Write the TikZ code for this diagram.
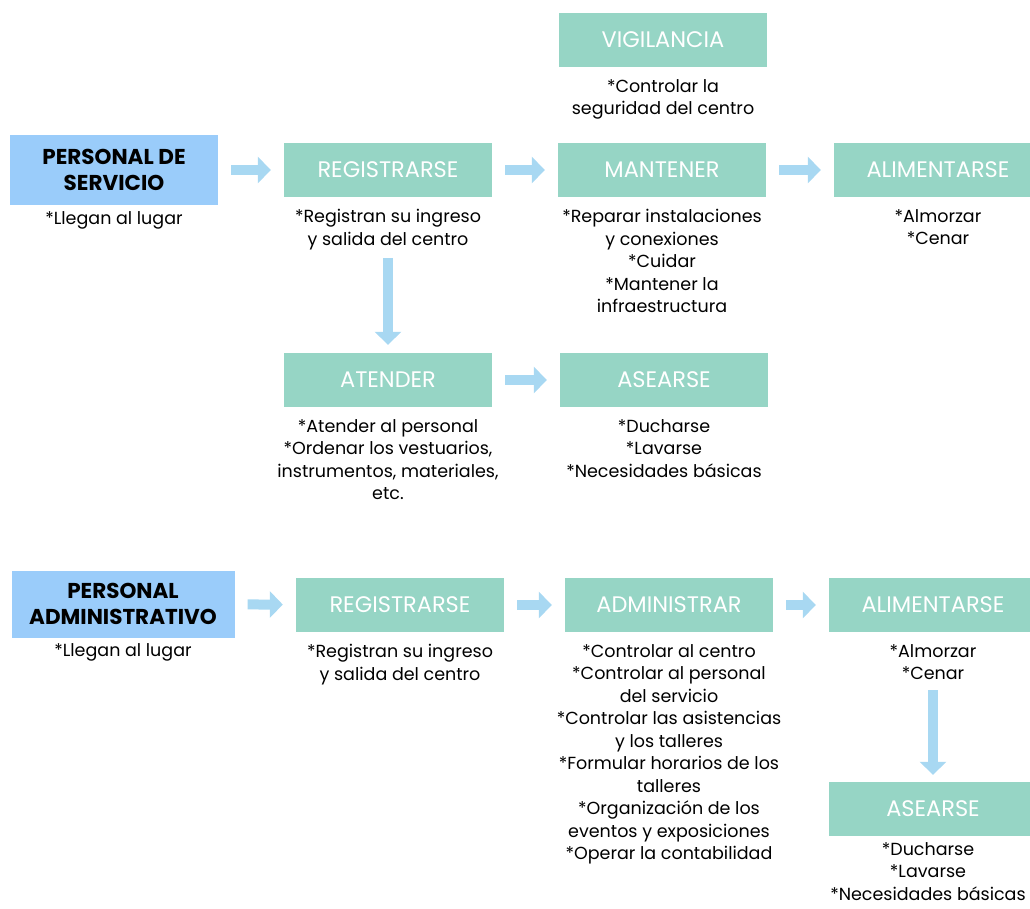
\documentclass[tikz,border=0pt]{standalone}
\usepackage{fontspec}
\setmainfont{Poppins}
\usetikzlibrary{positioning,arrows.meta}
\definecolor{tealbox}{HTML}{96D5C5}
\definecolor{bluebox}{HTML}{9ACCFA}
\definecolor{arrowblue}{HTML}{A8D8F2}
\tikzset{
  stage/.style={fill=tealbox, text=white, minimum width=208pt, minimum height=54pt,
    inner sep=0pt, font=\fontsize{22.5}{26}\selectfont},
  actor/.style={fill=bluebox, text=black, align=center, minimum width=208pt, minimum height=70pt,
    inner sep=0pt, font=\bfseries\fontsize{21.5}{26}\selectfont},
  note/.style={align=center, inner sep=0pt, font=\fontsize{17.5}{22.5}\selectfont},
  flow/.style={arrowblue, line width=10pt, -{Triangle[length=13pt,width=26pt]},
    shorten <=13pt, shorten >=13pt}
}
\begin{document}
\begin{tikzpicture}[x=1pt,y=-1pt]
	\useasboundingbox (0,0) rectangle (1030,908);
	\clip (0,0) rectangle (1030,908);
	% personal de servicio
	\node[actor] (ps) at (114,170) {PERSONAL DE\\SERVICIO};
	\node[note, below=6pt of ps] (psn) {*Llegan al lugar};
	\node[stage] (reg) at (388,170) {REGISTRARSE};
	\node[note, below=12pt of reg] (regn) {*Registran su ingreso\\y salida del centro};
	\node[stage] (vig) at (663,40) {VIGILANCIA};
	\node[note, below=12pt of vig] (vign) {*Controlar la\\seguridad del centro};
	\node[stage] (man) at (662,170) {MANTENER};
	\node[note, below=12pt of man] (mann) {*Reparar instalaciones\\y conexiones\\*Cuidar\\*Mantener la\\infraestructura};
	\node[stage] (ali) at (938,170) {ALIMENTARSE};
	\node[note, below=12pt of ali] (alin) {*Almorzar\\*Cenar};
	\node[stage] (ate) at (388,380) {ATENDER};
	\node[note, below=12pt of ate] (aten) {*Atender al personal\\*Ordenar los vestuarios,\\instrumentos, materiales,\\etc.};
	\node[stage] (ase) at (664,380) {ASEARSE};
	\node[note, below=12pt of ase] (asen) {*Ducharse\\*Lavarse\\*Necesidades básicas};
	\draw[flow] (ps) -- (reg);
	\draw[flow] (reg) -- (man);
	\draw[flow] (man) -- (ali);
	\draw[flow, shorten <=8pt, shorten >=8pt] (regn) -- (ate);
	\draw[flow] (ate) -- (ase);
	% personal administrativo
	\node[actor, minimum width=223pt, minimum height=67pt] (pa) at (123,604) {PERSONAL\\ADMINISTRATIVO};
	\node[note, below=6pt of pa] (pan) {*Llegan al lugar};
	\node[stage] (reg2) at (400,605) {REGISTRARSE};
	\node[note, below=12pt of reg2] (reg2n) {*Registran su ingreso\\y salida del centro};
	\node[stage] (adm) at (669,605) {ADMINISTRAR};
	\node[note, below=12pt of adm] (admn) {*Controlar al centro\\*Controlar al personal\\del servicio\\*Controlar las asistencias\\y los talleres\\*Formular horarios de los\\talleres\\*Organización de los\\eventos y exposiciones\\*Operar la contabilidad};
	\node[stage] (ali2) at (933,605) {ALIMENTARSE};
	\node[note, below=12pt of ali2] (ali2n) {*Almorzar\\*Cenar};
	\node[stage] (ase2) at (933,809) {ASEARSE};
	\node[note, below=6pt of ase2, xshift=-5pt] (ase2n) {*Ducharse\\*Lavarse\\*Necesidades básicas};
	\draw[flow] (pa) -- (reg2);
	\draw[flow] (reg2) -- (adm);
	\draw[flow] (adm) -- (ali2);
	\draw[flow, shorten <=10pt, shorten >=7pt] (ali2n) -- (ase2);
\end{tikzpicture}
\end{document}
